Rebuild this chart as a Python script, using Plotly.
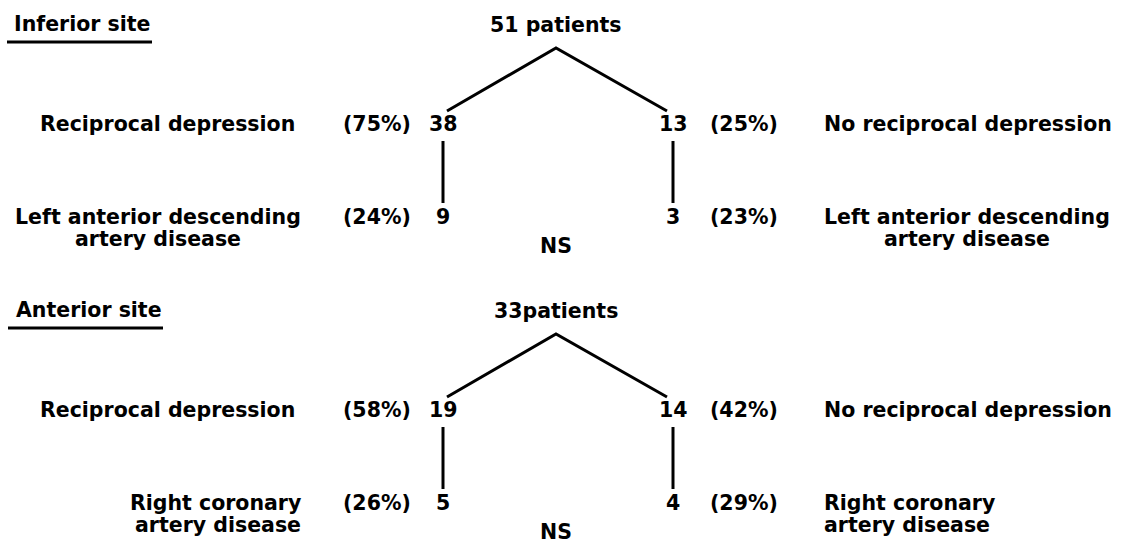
import plotly.graph_objects as go

# ---------------- data ----------------
sites = ["Inferior site", "Anterior site"]
total_patients = [51, 33]
patients_sep = [" ", ""]
recip_label = "Reciprocal depression"
no_recip_label = "No reciprocal depression"
recip_n = [38, 19]
recip_pct = [75, 58]
no_recip_n = [13, 14]
no_recip_pct = [25, 42]
disease_lines = [["Left anterior descending", "artery disease"],
                 ["Right coronary", "artery disease"]]
disease_recip_n = [9, 5]
disease_recip_pct = [24, 26]
disease_norecip_n = [3, 4]
disease_norecip_pct = [23, 29]
significance = ["NS", "NS"]

# ---------------- layout constants (pixels) ----------------
W, H = 1123, 543
block_dy = [0, 286]
FONT = dict(family="'DejaVu Sans', sans-serif", size=20.5, color="black", weight="bold")
LW = 3

X_APEX, Y_APEX = 556, 48
X_L, X_R = 443, 673
X_BL, X_BR, Y_B = 447, 667, 111
Y_ROW1, Y_VTOP, Y_VBOT, Y_ROW2, Y_LINE2, Y_NS = 124, 141, 203, 217, 239, 246
Y_TITLE, Y_UL = 24, 42
X_PCT_L, X_PCT_R = 413, 708
X_LAB_L, X_LAB_R = 297, 822
title_x = [12, 14]
underline_x = [(7, 152), (8, 163)]
disease_left_align = [("center", 158), ("right", 303)]
disease_right_align = [("center", 967), ("left", 822)]

fig = go.Figure()
ann = []
shapes = []


def txt(x, y, s, xanchor="center"):
    ann.append(dict(x=x, y=y, xref="x", yref="y", text=s, showarrow=False,
                    xanchor=xanchor, yanchor="middle", font=FONT))


for i in range(len(sites)):
    dy = block_dy[i]
    fig.add_trace(go.Scatter(x=[X_BL, X_APEX, X_BR], y=[Y_B + dy, Y_APEX + dy, Y_B + dy],
                             mode="lines", line=dict(color="black", width=LW),
                             hoverinfo="skip", showlegend=False))
    for xv in (X_L, X_R):
        fig.add_trace(go.Scatter(x=[xv, xv], y=[Y_VTOP + dy, Y_VBOT + dy],
                                 mode="lines", line=dict(color="black", width=LW),
                                 hoverinfo="skip", showlegend=False))
    txt(title_x[i], Y_TITLE + dy, sites[i], "left")
    shapes.append(dict(type="line", xref="x", yref="y",
                       x0=underline_x[i][0], x1=underline_x[i][1],
                       y0=Y_UL + dy, y1=Y_UL + dy, line=dict(color="black", width=LW)))
    txt(X_APEX, Y_TITLE + dy + 1, f"{total_patients[i]}{patients_sep[i]}patients")
    txt(X_LAB_L, Y_ROW1 + dy, recip_label, "right")
    txt(X_PCT_L, Y_ROW1 + dy, f"({recip_pct[i]}%)", "right")
    txt(X_L, Y_ROW1 + dy, str(recip_n[i]))
    txt(X_R, Y_ROW1 + dy, str(no_recip_n[i]))
    txt(X_PCT_R, Y_ROW1 + dy, f"({no_recip_pct[i]}%)", "left")
    txt(X_LAB_R, Y_ROW1 + dy, no_recip_label, "left")
    txt(X_PCT_L, Y_ROW2 + dy, f"({disease_recip_pct[i]}%)", "right")
    txt(X_L, Y_ROW2 + dy, str(disease_recip_n[i]))
    txt(X_R, Y_ROW2 + dy, str(disease_norecip_n[i]))
    txt(X_PCT_R, Y_ROW2 + dy, f"({disease_norecip_pct[i]}%)", "left")
    for k, line in enumerate(disease_lines[i]):
        yy = (Y_ROW2 if k == 0 else Y_LINE2) + dy
        al, xx = disease_left_align[i]
        txt(xx, yy, line, al)
        al, xx = disease_right_align[i]
        txt(xx, yy, line, al)
    txt(X_APEX, Y_NS + dy, significance[i])

fig.update_layout(
    width=W, height=H, margin=dict(l=0, r=0, t=0, b=0),
    paper_bgcolor="white", plot_bgcolor="white",
    xaxis=dict(range=[0, W], visible=False, fixedrange=True),
    yaxis=dict(range=[H, 0], visible=False, fixedrange=True),
    annotations=ann, shapes=shapes, showlegend=False,
)
fig.write_html(
    "out.html",
    config={"displayModeBar": False},
    post_script="document.body.style.margin='0';document.body.style.overflow='hidden';",
)
